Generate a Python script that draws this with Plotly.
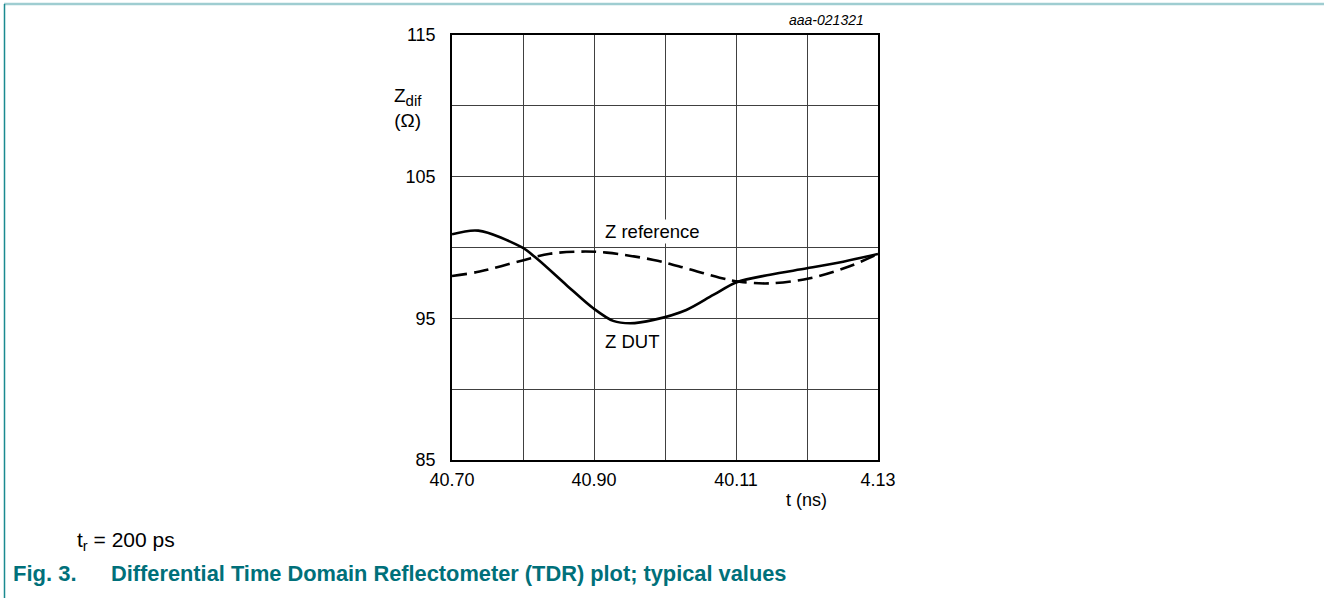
import plotly.graph_objects as go

# ---- data (time in ns, impedance in ohm) ----
t_dut = [40.0700, 40.0737, 40.0798, 40.0819, 40.0861, 40.0899, 40.0927, 40.0951,
         40.0984, 40.1030, 40.1068, 40.1101, 40.1148, 40.1200, 40.1251, 40.1300]
z_dut = [100.93, 101.19, 100.02, 99.24, 97.36, 95.71, 94.82, 94.65,
         94.89, 95.59, 96.65, 97.55, 98.08, 98.53, 99.00, 99.54]

t_ref = [40.0700, 40.0739, 40.0798, 40.0838, 40.0880, 40.0918, 40.0984, 40.1030,
         40.1077, 40.1105, 40.1148, 40.1204, 40.1256, 40.1300]
z_ref = [97.99, 98.30, 99.07, 99.56, 99.71, 99.64, 99.12, 98.53,
         97.87, 97.59, 97.47, 97.83, 98.60, 99.54]

x_tickvals = [40.07, 40.08, 40.09, 40.10, 40.11, 40.12, 40.13]
x_ticktext = ["40.70", "", "40.90", "", "40.11", "", "4.13"]
y_tickvals = [85, 90, 95, 100, 105, 110, 115]
y_ticktext = ["85", "", "95", "", "105", "", "115"]

W, H = 1324, 604
L, R, T, B = 452, 878, 35, 460
FONT = "Liberation Sans, Arial, sans-serif"
TEAL = "#00707a"


def px(x):
    return (x - L) / (R - L)


def py(y):
    return (B - y) / (B - T)


fig = go.Figure()
fig.add_trace(go.Scatter(x=t_ref, y=z_ref, mode="lines",
                         line=dict(color="black", width=2.6, dash="15px,7px", shape="spline", smoothing=1.0),
                         showlegend=False, hoverinfo="skip"))
fig.add_trace(go.Scatter(x=t_dut, y=z_dut, mode="lines",
                         line=dict(color="black", width=2.6, shape="spline", smoothing=0.9),
                         showlegend=False, hoverinfo="skip"))

axis_common = dict(showgrid=True, gridcolor="#404040", gridwidth=1, zeroline=False,
                   showline=True, linecolor="black", linewidth=1.5, mirror=True,
                   ticks="", tickfont=dict(family=FONT, size=18, color="black"))

fig.update_xaxes(range=[40.07, 40.13], tickmode="array", tickvals=x_tickvals, ticktext=x_ticktext,
                 ticklabelstandoff=3, **axis_common)
fig.update_yaxes(range=[85, 115], tickmode="array", tickvals=y_tickvals, ticktext=y_ticktext,
                 ticklabelstandoff=11, **axis_common)

ann = []
ann.append(dict(x=px(866), y=py(20), xref="paper", yref="paper", text="<i>aaa-021321</i>", showarrow=False,
                xanchor="right", yanchor="middle", font=dict(family=FONT, size=14, color="black")))
ann.append(dict(x=px(408), y=py(108), xref="paper", yref="paper",
                text="Z<sub><span style='font-size:15px'>dif</span></sub><br>(Ω)", showarrow=False,
                xanchor="center", yanchor="middle", align="center", font=dict(family=FONT, size=19, color="black")))
ann.append(dict(x=px(603), y=py(231), xref="paper", yref="paper", text="Z reference", showarrow=False,
                xanchor="left", yanchor="middle", bgcolor="white", borderpad=1,
                font=dict(family=FONT, size=18.5, color="black")))
ann.append(dict(x=px(603), y=py(341), xref="paper", yref="paper", text="Z DUT", showarrow=False,
                xanchor="left", yanchor="middle", bgcolor="white", borderpad=1,
                font=dict(family=FONT, size=18.5, color="black")))
ann.append(dict(x=px(806), y=py(500), xref="paper", yref="paper", text="t (ns)", showarrow=False,
                xanchor="center", yanchor="middle", font=dict(family=FONT, size=18, color="black")))
ann.append(dict(x=px(75), y=py(541), xref="paper", yref="paper", text="t<sub>r</sub> = 200 ps", showarrow=False,
                xanchor="left", yanchor="middle", font=dict(family=FONT, size=21, color="black")))
ann.append(dict(x=px(11), y=py(573), xref="paper", yref="paper",
                text="<b>Fig. 3.</b>", showarrow=False,
                xanchor="left", yanchor="middle", font=dict(family=FONT, size=22, color=TEAL)))
ann.append(dict(x=px(109), y=py(573), xref="paper", yref="paper",
                text="<b>Differential Time Domain Reflectometer (TDR) plot; typical values</b>", showarrow=False,
                xanchor="left", yanchor="middle", font=dict(family=FONT, size=21.8, color=TEAL)))

shapes = [
    dict(type="line", xref="paper", yref="paper", x0=px(4), x1=px(1324), y0=py(4), y1=py(4),
         line=dict(color="#9fcdd1", width=2.5)),
    dict(type="line", xref="paper", yref="paper", x0=px(4.5), x1=px(4.5), y0=py(4), y1=py(598),
         line=dict(color="#1a8a90", width=1.5)),
]

fig.update_layout(width=W, height=H, margin=dict(l=L, r=W - R, t=T, b=H - B, pad=0),
                  paper_bgcolor="white", plot_bgcolor="white", annotations=ann, shapes=shapes,
                  showlegend=False)

fig.write_html("out.html", config={"displayModeBar": False},
               post_script="document.body.style.margin='0';document.body.style.padding='0';"
                           "document.documentElement.style.overflow='hidden';")
